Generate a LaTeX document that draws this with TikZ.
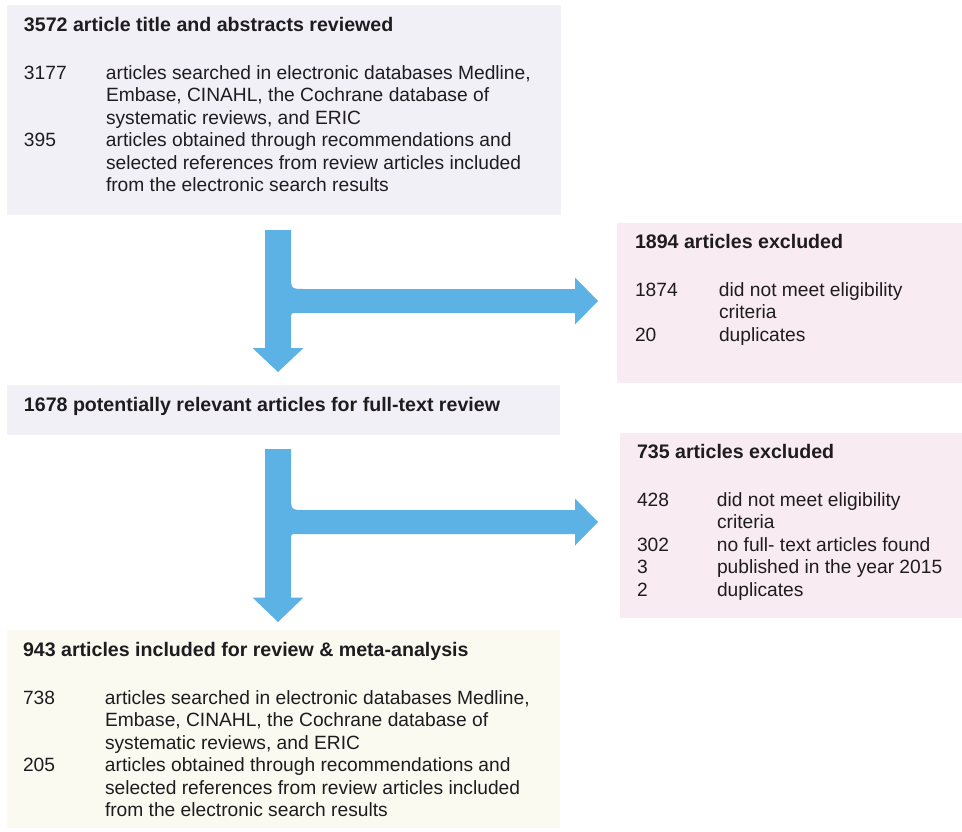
\documentclass[tikz,border=0pt]{standalone}
\usepackage{fontspec}
\setmainfont{Liberation Sans}
\usetikzlibrary{fit,calc}
\definecolor{lavgrey}{RGB}{241,240,246}
\definecolor{rosepink}{RGB}{248,235,242}
\definecolor{cream}{RGB}{250,250,240}
\definecolor{flowblue}{RGB}{92,178,229}
\definecolor{inkgrey}{RGB}{30,28,30}
% fat T-shaped split arrow: (top : arm centre : head base : tip)
\def\splitarrow(#1:#2:#3:#4){\fill[flowblue] (265,#1) -- (291,#1) -- (291,#2-26) .. controls (291,#2-12) .. (305,#2-12) -- (575,#2-12) -- (575,#2-23.5) -- (598,#2) -- (575,#2+23.5) -- (575,#2+12) -- (297,#2+12) .. controls (291,#2+12) .. (291,#2+18) -- (291,#3) -- (303.5,#3) -- (278,#4) -- (252.5,#3) -- (265,#3) -- cycle;}
\newcommand{\boxhead}[1]{\multicolumn{2}{@{}l@{}}{\fontsize{9.8}{11.25}\selectfont\bfseries #1}}
\tikzset{
  panel/.style={fill=#1, draw=none, inner sep=0pt},
  txt/.style={inner sep=0pt, anchor=base west, text=inkgrey}
}

\begin{document}
\begin{tikzpicture}[x=0.5pt, y=-0.5pt, font=\fontsize{9.6}{11.25}\selectfont]
		%%%%% START %%%%%
		\useasboundingbox[fill=white] (0,0) rectangle (962,831);
		
		\node[panel=lavgrey, fit={(7,5) (561,215)}] (screen) {};
		\node[txt] (screentxt) at ([shift={(17,27)}]screen.north west) {%
			\begin{tabular}[t]{@{}p{41pt}@{}l@{}}
				\boxhead{3572 article title and abstracts reviewed}\\[12.5pt]
				3177 & articles searched in electronic databases Medline,\\
				& Embase, CINAHL, the Cochrane database of\\
				& systematic reviews, and ERIC\\
				395 & articles obtained through recommendations and\\
				& selected references from review articles included\\
				& from the electronic search results
			\end{tabular}};
		
		\node[panel=rosepink, fit={(617,223) (962,383)}] (excl1) {};
		\node[txt] (excl1txt) at ([shift={(18,26)}]excl1.north west) {%
			\begin{tabular}[t]{@{}p{42pt}@{}l@{}}
				\boxhead{1894 articles excluded}\\[12.5pt]
				1874 & did not meet eligibility\\
				& criteria\\
				20 & duplicates
			\end{tabular}};
		
		\node[panel=lavgrey, fit={(7,385) (560,435)}] (fulltext) {};
		\node[txt] (fulltexttxt) at ([shift={(17,27)}]fulltext.north west) {\fontsize{9.8}{11.25}\selectfont\bfseries 1678 potentially relevant articles for full-text review};
		
		\node[panel=rosepink, fit={(620,433) (962,618)}] (excl2) {};
		\node[txt] (excl2txt) at ([shift={(17,26)}]excl2.north west) {%
			\begin{tabular}[t]{@{}p{40pt}@{}l@{}}
				\boxhead{735 articles excluded}\\[12.5pt]
				428 & did not meet eligibility\\
				& criteria\\
				302 & no full- text articles found\\
				3 & published in the year 2015\\
				2 & duplicates
			\end{tabular}};
		
		\node[panel=cream, fit={(7,630) (560,828)}] (incl) {};
		\node[txt] (incltxt) at ([shift={(16,27)}]incl.north west) {%
			\begin{tabular}[t]{@{}p{41pt}@{}l@{}}
				\boxhead{943 articles included for review \& meta-analysis}\\[12.5pt]
				738 & articles searched in electronic databases Medline,\\
				& Embase, CINAHL, the Cochrane database of\\
				& systematic reviews, and ERIC\\
				205 & articles obtained through recommendations and\\
				& selected references from review articles included\\
				& from the electronic search results
			\end{tabular}};
		
		\splitarrow(230:301:348:372)
		\splitarrow(449:522:597.5:622)
		
		%%%%% END %%%%%
	\end{tikzpicture}
\end{document}
